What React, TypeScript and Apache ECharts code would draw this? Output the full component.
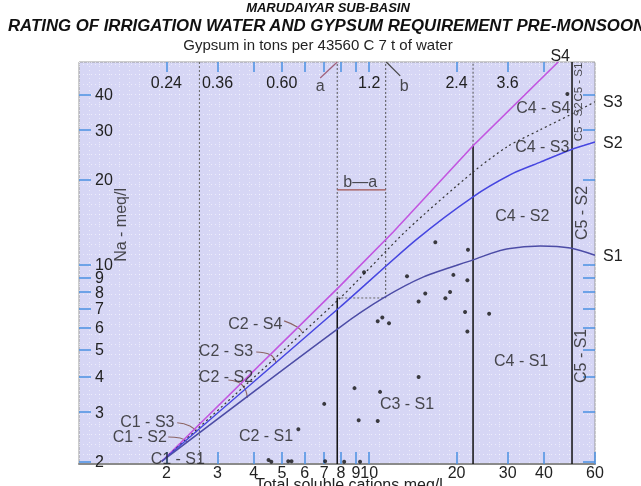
import React, { useEffect, useRef } from 'react';
import * as echarts from 'echarts';

const FONT = '"Liberation Sans", Arial, Helvetica, sans-serif';
const TICK = '#4a90e2';
const TXT = '#222';

// axis extents (total cations meq/l, Na meq/l)
const TC_MIN = 1;
const TC_MAX = 60;
const NA_MIN = 1.965;
const NA_MAX = 52.3;

// tick values and labels
const cationTicks = [2, 3, 4, 5, 6, 7, 8, 9, 10, 20, 30, 40, 60];
const topTicks = [2, 3, 4, 5, 6, 7, 8, 9, 10, 20, 30, 40];
const gypsumAt = [2, 3, 5, 10, 20, 30];
const gypsumLabels = ['0.24', '0.36', '0.60', '1.2', '2.4', '3.6'];
const naTicks = [2, 3, 4, 5, 6, 7, 8, 9, 10, 20, 30, 40];

// sodium hazard boundary curves [total cations, Na]
const s4Line = [[1.93, 2.01], [7.94, 8.41], [12.1, 13.06], [22.8, 26.4], [44.8, 52.3]];
const s3Line = [[1.93, 2.01], [7.94, 7.62], [13.5, 13.27], [22.8, 21.3], [29.9, 26.2], [38.9, 30.1], [49.3, 34.0], [60, 37.8]];
const s2Line = [[1.93, 2.01], [7.94, 7.08], [14.5, 12.24], [22.8, 17.4], [31.4, 21.1], [38.9, 23.1], [49.3, 25.5], [60, 27.2]];
const s1Line = [[1.93, 2.01], [7.94, 6.01], [11.2, 7.62], [15.4, 9.05], [22.8, 10.4], [29.0, 11.3], [38.9, 11.65], [49.3, 11.46], [60, 10.8]];

// salinity class boundaries / gypsum box
const c1c2 = 2.6;
const boxLeft = 7.76;
const boxRight = 11.4;
const boxBottom = 7.62;
const c3c4 = 22.8;
const c3c4Top = 26.4;
const c4c5 = 50;
const baLevel = 18.4;

// water samples [total cations, Na]
const samples = [
  [16.9, 12.0], [21.9, 11.3], [9.6, 9.4], [13.5, 9.1], [19.5, 9.2], [21.8, 8.8], [19.0, 8.0],
  [15.6, 7.9], [14.8, 7.4], [18.3, 7.6], [21.4, 6.8], [25.9, 6.7], [11.1, 6.5], [10.7, 6.3],
  [11.7, 6.2], [21.8, 5.8], [14.8, 4.0], [8.9, 3.65], [10.9, 3.54], [9.2, 2.81], [10.7, 2.79],
  [8.2, 2.0], [9.3, 2.0], [7.0, 3.21], [5.7, 2.61], [4.5, 2.03], [4.6, 2.0], [5.26, 2.01],
  [5.4, 2.01], [7.05, 2.01], [48.2, 40.3],
];

// zone labels
const zoneText = ['C1 - S1', 'C1 - S2', 'C1 - S3', 'C2 - S1', 'C2 - S2', 'C2 - S3', 'C2 - S4', 'C3 - S1', 'C4 - S1', 'C4 - S2', 'C4 - S3', 'C4 - S4'];
const zoneAt = [[2.19, 2.06], [1.62, 2.45], [1.72, 2.79], [4.41, 2.47], [3.21, 4.03], [3.21, 4.98], [4.05, 6.21], [13.5, 3.21], [33.4, 4.59], [33.7, 15.0], [39.5, 26.15], [39.8, 36.2]];
const c5Text = ['C5 - S1', 'C5 - S2', 'C5 - S2', 'C5 - S1'];
const c5At = [[53.4, 4.75], [53.8, 15.25], [52.6, 32.1], [52.6, 44.4]];
const c5Size = [16, 16, 11.5, 11.5];

// leader lines
const leaders = [
  [[5.09, 6.32], [5.65, 6.01], [5.87, 5.77]],
  [[4.08, 4.9], [4.56, 4.79], [4.78, 4.48]],
  [[3.27, 3.9], [3.65, 3.745], [3.8, 3.37]],
  [[2.18, 2.75], [2.41, 2.68], [2.55, 2.55]],
  [[2.03, 2.45], [2.23, 2.43], [2.36, 2.35]],
];
const leaderA = [[6.78, 45.9], [7.76, 52.3]];
const leaderB = [[11.45, 52.3], [12.79, 46.7]];

export default function App() {
  const ref = useRef<HTMLDivElement>(null);
  useEffect(() => {
    if (!ref.current) return;
    const chart = echarts.init(ref.current, undefined, { renderer: 'svg' });

    const seg = (data: number[][], color: string, width: number, type: any = 'solid', z = 3) => ({
      type: 'line', xAxisIndex: 0, yAxisIndex: 0, data, symbol: 'none', showSymbol: false, silent: true,
      lineStyle: { color, width, type }, z, animation: false,
    });
    const dotted = [2, 2];

    const labelSeries = (items: any[]) => ({
      type: 'scatter', xAxisIndex: 0, yAxisIndex: 0, symbolSize: 0, silent: true, clip: false, z: 6,
      data: items,
    });

    const series: any[] = [
      // class boundary lines
      seg([[c1c2, NA_MIN], [c1c2, NA_MAX]], '#666', 1, dotted),
      seg([[boxLeft, boxBottom], [boxLeft, NA_MAX]], '#555', 1, dotted),
      seg([[boxRight, boxBottom], [boxRight, NA_MAX]], '#555', 1, dotted),
      seg([[boxLeft, boxBottom], [boxRight, boxBottom]], '#666', 1, dotted),
      seg([[c3c4, c3c4Top], [c3c4, NA_MAX]], '#555', 1, dotted),
      seg([[boxLeft, NA_MIN], [boxLeft, boxBottom]], '#111', 1.5),
      seg([[c3c4, NA_MIN], [c3c4, c3c4Top]], '#111', 1.5),
      seg([[c4c5, NA_MIN], [c4c5, NA_MAX]], '#111', 1.5),
      seg([[boxLeft, baLevel], [boxRight, baLevel]], '#a0524f', 1.3),
      seg(leaderA, '#a0607a', 1.2),
      seg(leaderB, '#444', 1.2),
      ...leaders.map((l) => ({ ...seg(l, '#8b6464', 1.1), smooth: true })),
      // sodium hazard curves
      {
        ...seg(s4Line, '#c256e0', 1.6, 'solid', 4),
        endLabel: { show: true, formatter: 'S4', align: 'center', verticalAlign: 'bottom', offset: [-6, 1], fontSize: 16, color: TXT, fontFamily: FONT },
      },
      {
        ...seg(s3Line, '#333', 1.2, [2, 3], 4), smooth: 0.25,
        endLabel: { show: true, formatter: 'S3', distance: 8, fontSize: 16, color: TXT, fontFamily: FONT },
      },
      {
        ...seg(s2Line, '#4646e0', 1.5, 'solid', 4), smooth: 0.25,
        endLabel: { show: true, formatter: 'S2', distance: 8, fontSize: 16, color: TXT, fontFamily: FONT },
      },
      {
        ...seg(s1Line, '#4c4ca6', 1.5, 'solid', 4), smooth: 0.3,
        endLabel: { show: true, formatter: 'S1', distance: 8, fontSize: 16, color: TXT, fontFamily: FONT },
      },
      // samples
      {
        type: 'scatter', xAxisIndex: 0, yAxisIndex: 0, data: samples, symbol: 'circle', symbolSize: 4,
        itemStyle: { color: '#111' }, z: 5, silent: true,
      },
      // zone labels
      labelSeries(zoneText.map((t, i) => ({
        name: t, value: zoneAt[i],
        label: { show: true, position: 'inside', formatter: '{b}', fontSize: 16, color: TXT, fontFamily: FONT },
      }))),
      labelSeries(c5Text.map((t, i) => ({
        name: t, value: c5At[i],
        label: { show: true, position: 'inside', rotate: 90, formatter: '{b}', fontSize: c5Size[i], color: TXT, fontFamily: FONT },
      }))),
      labelSeries([
        { name: 'a', value: [6.78, 43.0] },
        { name: 'b', value: [13.2, 43.0] },
        { name: 'b—a', value: [9.31, 19.65] },
        { name: 'Na - meq/l', value: [1.385, 13.83], label: { show: true, position: 'inside', rotate: 90, formatter: '{b}', fontSize: 16, color: TXT, fontFamily: FONT } },
      ].map((d: any) => d.label ? d : { ...d, label: { show: true, position: 'inside', formatter: '{b}', fontSize: 16, color: TXT, fontFamily: FONT } })),
    ];

    const hiddenAxis = (max: number) => ({
      type: 'value', gridIndex: 0, min: 0, max, interval: 10, show: true,
      axisLine: { show: false }, axisTick: { show: false }, axisLabel: { show: false },
      splitLine: { show: true, lineStyle: { color: 'rgba(255,255,255,0.55)', width: 1, type: [1, 3] } },
    });

    const option: any = {
      animation: false,
      textStyle: { fontFamily: FONT },
      title: [
        { text: 'MARUDAIYAR SUB-BASIN', left: 328, textAlign: 'center', top: 1, padding: 0,
          textStyle: { fontSize: 13, fontWeight: 'bold', fontStyle: 'italic', color: '#111', fontFamily: FONT } },
        { text: 'RATING OF IRRIGATION WATER AND GYPSUM REQUIREMENT PRE-MONSOON', left: 8, top: 17, padding: 0,
          textStyle: { fontSize: 16.8, fontWeight: 'bold', fontStyle: 'italic', color: '#111', fontFamily: FONT } },
        { text: 'Gypsum in tons per 43560 C 7 t of water', left: 318, textAlign: 'center', top: 37, padding: 0,
          textStyle: { fontSize: 15, fontWeight: 'normal', color: TXT, fontFamily: FONT } },
      ],
      grid: {
        left: 79, right: 46, top: 62, bottom: 22, containLabel: false, outerBoundsMode: 'none',
        show: true, backgroundColor: '#d6d6f5', borderColor: '#9a9a9a', borderWidth: 1,
      },
      xAxis: [
        {
          type: 'log', logBase: 10, min: TC_MIN, max: TC_MAX, position: 'bottom', gridIndex: 0,
          axisLine: { show: true, lineStyle: { color: '#8a8a8a', width: 2 } },
          axisTick: { show: true, inside: true, length: 12, customValues: cationTicks, lineStyle: { color: TICK, width: 1.5 } },
          axisLabel: { show: true, customValues: cationTicks, margin: 0, fontSize: 16, color: TXT, fontFamily: FONT, formatter: (v: number) => String(Math.round(v)) },
          splitLine: { show: false }, minorTick: { show: false },
          name: 'Total soluble cations meq/l', nameLocation: 'middle', nameGap: 12, nameMoveOverlap: false,
          nameTextStyle: { fontSize: 16, color: TXT, fontFamily: FONT, padding: [0, 0, 0, 24] },
        },
        {
          type: 'log', logBase: 10, min: TC_MIN, max: TC_MAX, position: 'top', gridIndex: 0,
          axisLine: { show: false },
          axisTick: { show: true, inside: true, length: 10, customValues: topTicks, lineStyle: { color: TICK, width: 1.5 } },
          axisLabel: {
            show: true, inside: true, margin: 12, customValues: gypsumAt, fontSize: 16, color: TXT, fontFamily: FONT,
            formatter: (v: number) => { const i = gypsumAt.findIndex((g) => Math.abs(g - v) < 1e-6); return i >= 0 ? gypsumLabels[i] : ''; },
          },
          splitLine: { show: false }, minorTick: { show: false },
        },
        hiddenAxis(516),
      ],
      yAxis: [
        {
          type: 'log', logBase: 10, min: NA_MIN, max: NA_MAX, position: 'left', gridIndex: 0,
          axisLine: { show: false },
          axisTick: { show: true, inside: true, length: 12, customValues: naTicks, lineStyle: { color: TICK, width: 1.5 } },
          axisLabel: { show: true, inside: true, margin: 16, customValues: naTicks, fontSize: 16, color: TXT, fontFamily: FONT, formatter: (v: number) => String(Math.round(v)) },
          splitLine: { show: false }, minorTick: { show: false },
        },
        {
          type: 'log', logBase: 10, min: NA_MIN, max: NA_MAX, position: 'right', gridIndex: 0,
          axisLine: { show: false },
          axisTick: { show: true, inside: true, length: 12, customValues: naTicks, lineStyle: { color: TICK, width: 1.5 } },
          axisLabel: { show: false },
          splitLine: { show: false }, minorTick: { show: false },
        },
        hiddenAxis(402),
      ],
      series,
    };
    chart.setOption(option);
    return () => chart.dispose();
  }, []);

  return <div ref={ref} style={{ position: 'fixed', left: 0, top: 0, width: 641, height: 486 }} />;
}
